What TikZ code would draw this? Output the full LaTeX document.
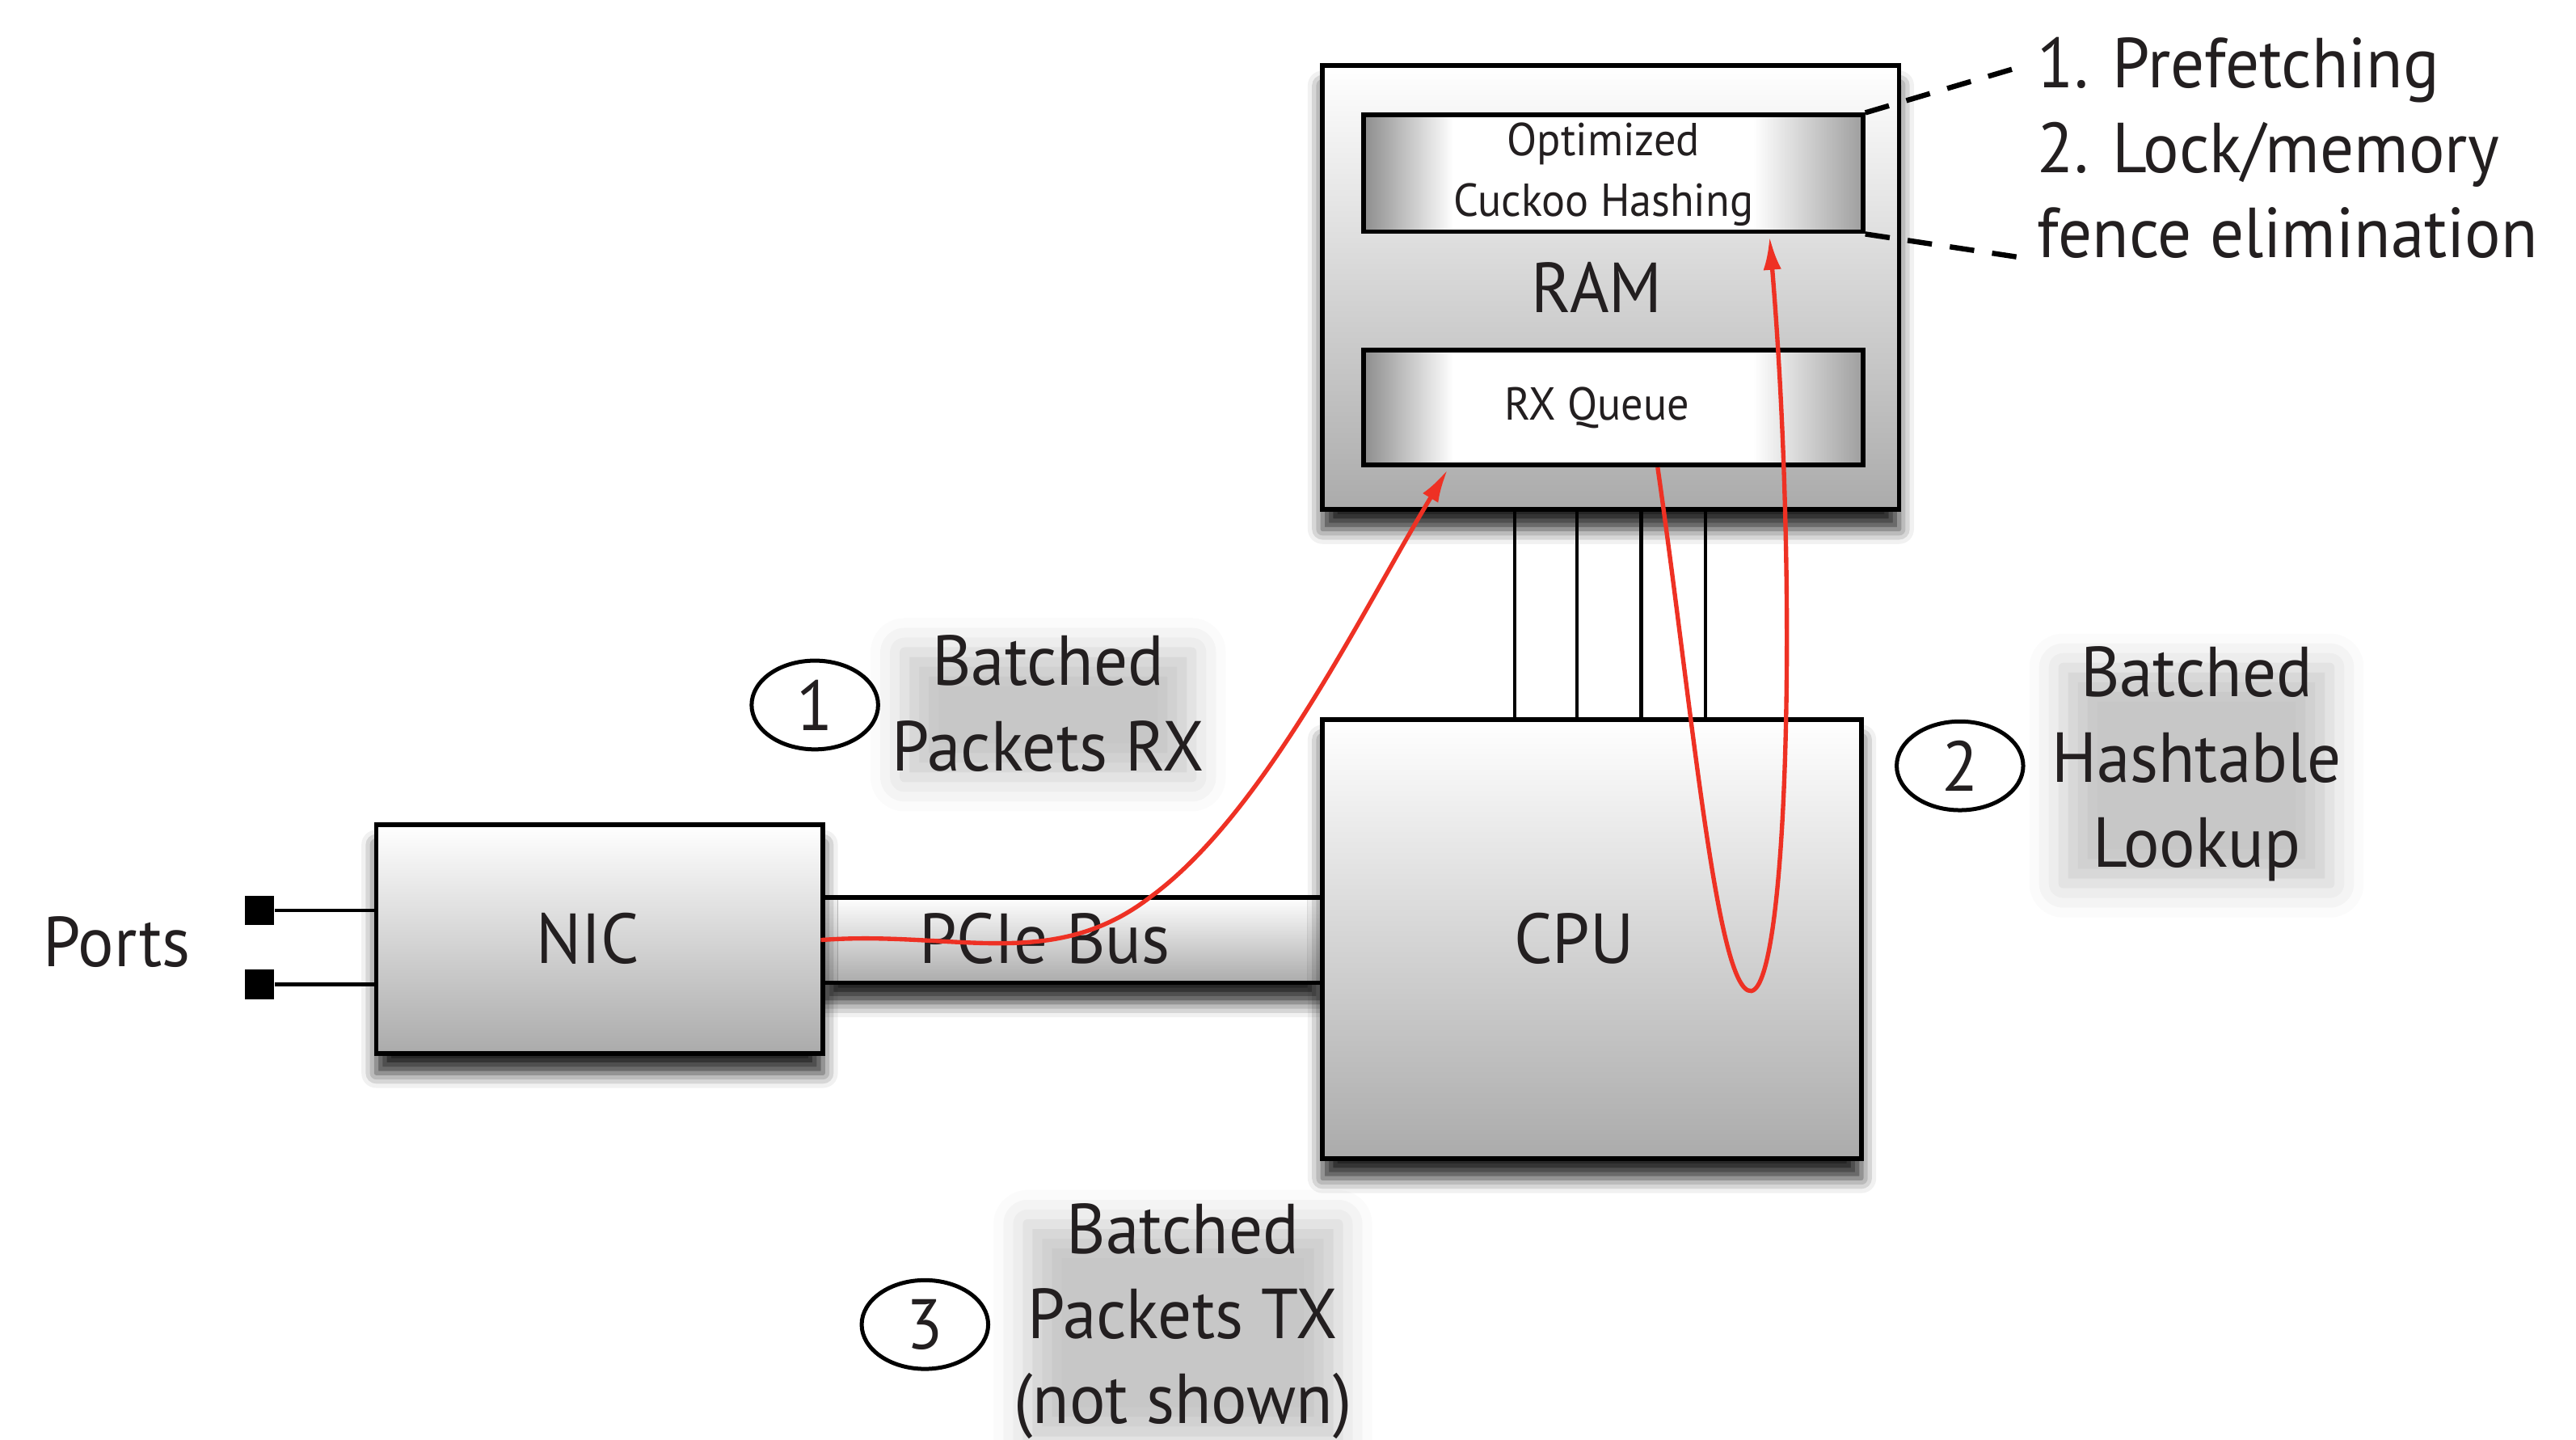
\documentclass[tikz,border=0pt]{standalone}
\usepackage{fontspec}
\setmainfont{PT Sans}[FakeStretch=0.95]
\usetikzlibrary{arrows.meta,shapes.geometric,shadows.blur,fit,calc}
\definecolor{flowred}{RGB}{238,49,36}
\definecolor{ink}{RGB}{35,31,32}
\tikzset{>={Latex[length=4mm,width=2.2mm]}}
% white plateau in the middle, grey at both ends
\pgfdeclarehorizontalshading{slotshade}{100bp}{color(0bp)=(black!45); color(25bp)=(black!45);
  color(34bp)=(white); color(64bp)=(white); color(75bp)=(black!38); color(100bp)=(black!38)}

\begin{document}
\begin{tikzpicture}[x=0.2mm,y=-0.2mm,
  font=\fontsize{24.5}{29.5}\selectfont, text=ink,
  box/.style={draw, line width=1.6pt, top color=white, bottom color=black!33, inner sep=0pt,
    blur shadow={shadow xshift=0pt, shadow yshift=-2.4mm, shadow blur radius=1.8mm, shadow opacity=85}},
  slot/.style={draw, line width=1.6pt, shading=slotshade, inner sep=0pt},
  small/.style={font=\fontsize{16}{21}\selectfont},
  port/.style={fill=black, minimum size=3.6mm, inner sep=0pt},
  wire/.style={line width=1.2pt},
  flow/.style={draw=flowred, line width=1.5pt, fill=none, shorten >=1pt},
  num/.style={ellipse, draw, fill=white, line width=1.4pt, minimum width=15.4mm, minimum height=10.8mm, inner sep=0pt},
  glow/.style={inner sep=0pt,
    blur shadow={shadow xshift=0pt, shadow yshift=-1.5mm, shadow blur radius=4.5mm, shadow opacity=22, shadow scale=0.92}},
  callout/.style={line width=1.8pt, dash pattern=on 3mm off 2.2mm}
]
  \useasboundingbox (0,0) rectangle (1568,876);

  % boxes
  \node[box, fit={(805,40) (1156,310)}] (ram) {};
  \node[slot, fit={(830,70) (1134,141)}] (hash) {};
  \node[slot, fit={(830,213) (1134,283)}] (rxq) {};
  \node[box, fit={(501,546) (805,598)}] (pcie) {};
  \node[box, fit={(229,502) (501,641)}] (nic) {};
  \node[box, fit={(805,438) (1133,705)}] (cpu) {};

  % box labels
  \node at (972,175) {RAM};
  \node[small, align=center] at (976,106) {Optimized\\Cuckoo Hashing};
  \node[small] at (972,248) {RX Queue};
  \node at (958,571) {CPU};
  \node at (358,571) {NIC};
  \node at (636,571) {PCIe Bus};
  \node (portlab) at (71,573) {Ports};

  % ports
  \node[port] (p1) at (158,554) {};
  \node[port] (p2) at (158,599) {};
  \draw[wire] (p1) -- (p1 -| nic.west);
  \draw[wire] (p2) -- (p2 -| nic.west);

  % memory bus
  \foreach \x in {922,960,999,1038}
    \draw[wire] (ram.south -| \x,0) -- (cpu.north -| \x,0);

  % steps
  \node[glow, align=center] (rxlab) at (638,428) {Batched\\Packets RX};
  \node[glow, align=center] (lookup) at (1337,465) {Batched\\Hashtable\\Lookup};
  \node[glow, align=center] (txlab) at (720,804) {Batched\\Packets TX\\(not shown)};
  \node[num] (n1) at (496,429) {1};
  \node[num] (n2) at (1193,466) {2};
  \node[num] (n3) at (563,806) {3};

  % notes on the hash table
  \node[align=left, anchor=west] (notes) at (1234,90) {1. Prefetching\\2. Lock/memory\\fence elimination};
  \coordinate (d1) at (1232,40);
  \coordinate (d2) at (1232,157);
  \draw[callout] (hash.north east) -- (d1);
  \draw[callout] (hash.south east) -- (d2);

  % packet flow
  \draw[flow, ->] (pcie.west) .. controls (580,566) and (640,592) .. (700,546)
    .. controls (770,495) and (830,370) .. (rxq.south -| 882,0);
  \draw[flow, ->] (rxq.south -| 1009,0) .. controls (1030,430) and (1045,605) .. (1066,603)
    .. controls (1088,600) and (1095,360) .. (hash.south -| 1077,0);
\end{tikzpicture}
\end{document}
